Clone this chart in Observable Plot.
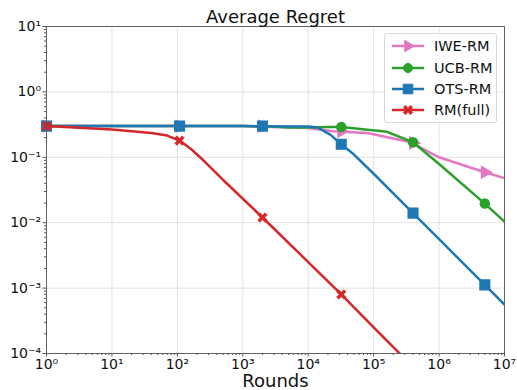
<!DOCTYPE html>
<html><head><meta charset="utf-8">
<script src="https://cdn.jsdelivr.net/npm/d3@7"></script>
<script src="https://cdn.jsdelivr.net/npm/@observablehq/plot@0.6"></script>
<style>
body{margin:0;background:#fff;}
#wrap{position:relative;width:517px;height:390px;font-family:"DejaVu Sans",sans-serif;}
#legend{position:absolute;left:384px;top:33px;width:113px;height:90px;border:1px solid #d9d9d9;border-radius:3px;background:rgba(255,255,255,0.8);box-sizing:border-box;}
.row{position:absolute;left:0;height:20px;display:flex;align-items:center;font-size:14.5px;color:#111;white-space:nowrap;}
.row svg{margin-left:7px;margin-right:10px;}
</style></head><body><div id="wrap"><div id="legend"></div></div>
<script>
// ---- data ----
const seriesNames = ["IWE-RM", "UCB-RM", "OTS-RM", "RM(full)"];
const seriesColors = ["#e377c2", "#2ca02c", "#1f77b4", "#d62728"];

const iweRounds  = [1, 10, 100, 1000, 5000, 10000, 24000, 80000, 370000, 1000000, 5000000, 10000000];
const iweRegret  = [0.3, 0.3, 0.3, 0.3, 0.285, 0.28, 0.25, 0.235, 0.17, 0.1, 0.059, 0.048];

const ucbRounds  = [1, 10, 100, 1000, 3000, 5000, 10000, 20000, 32000, 160000, 400000, 1000000, 5000000, 10000000];
const ucbRegret  = [0.3, 0.3, 0.3, 0.3, 0.295, 0.285, 0.285, 0.29, 0.29, 0.245, 0.17, 0.079, 0.0196, 0.0104];

const otsRounds  = [1, 10, 100, 1000, 10000, 14000, 22000, 32000, 50000, 100000, 400000, 1000000, 5000000, 10000000];
const otsRegret  = [0.3, 0.3, 0.3, 0.3, 0.295, 0.285, 0.22, 0.158, 0.11, 0.056, 0.014, 0.0056, 0.00112, 0.00056];

const rmRounds   = [1, 10, 40, 70, 108, 160, 250, 500, 2000, 10000, 32000, 100000, 1000000];
const rmRegret   = [0.3, 0.265, 0.235, 0.215, 0.18, 0.135, 0.09, 0.045, 0.012, 0.0025, 0.0008, 0.00025, 0.000025];

const markerRounds = [1, 108, 2000, 32000, 400000, 5000000];
const iweMarkers = [0.3, 0.3, 0.3, 0.25, 0.165, 0.059];
const ucbMarkers = [0.3, 0.3, 0.3, 0.29, 0.17, 0.0196];
const otsMarkers = [0.3, 0.3, 0.3, 0.158, 0.014, 0.00112];
const rmMarkerRounds = [1, 108, 2000, 32000];
const rmMarkers  = [0.3, 0.18, 0.012, 0.0008];

const xTicks = [1, 10, 100, 1000, 10000, 100000, 1000000, 10000000];
const yTicks = [0.0001, 0.001, 0.01, 0.1, 1, 10];

const titleText = "Average Regret";
const xLabel = "Rounds";

// ---- helpers ----
const supMap = {"0":"⁰","1":"¹","2":"²","3":"³","4":"⁴","5":"⁵","6":"⁶","7":"⁷","8":"⁸","9":"⁹","-":"⁻"};
const fmt = d => "10" + String(Math.round(Math.log10(d))).split("").map(c => supMap[c]).join("");
const minorOf = ticks => ticks.slice(0, -1).flatMap(t => [2,3,4,5,6,7,8,9].map(m => t * m));
const xMinor = minorOf(xTicks), yMinor = minorOf(yTicks);

// filled "X" marker like matplotlib's
const symbolFilledX = {
  draw(context, size) {
    const r = Math.sqrt(size / Math.PI) * 1.05, w = r * 0.3;
    const pts = [[w,r],[w,w],[r,w],[r,-w],[w,-w],[w,-r],[-w,-r],[-w,-w],[-r,-w],[-r,w],[-w,w],[-w,r]];
    const c = Math.SQRT1_2;
    pts.forEach(([x, y], i) => {
      const X = (x - y) * c, Y = (x + y) * c;
      i ? context.lineTo(X, Y) : context.moveTo(X, Y);
    });
    context.closePath();
  }
};

const [cI, cU, cO, cR] = seriesColors;
const lw = 2.5;
const gridStyle = {stroke: "#b0b0b0", strokeOpacity: 0.45, strokeWidth: 0.8};
const axisStroke = "#555";

const chart = Plot.plot({
  width: 517, height: 390,
  marginLeft: 46, marginRight: 13, marginTop: 26, marginBottom: 37,
  style: {fontFamily: "DejaVu Sans", background: "white", color: "#111", overflow: "visible"},
  x: {type: "log", domain: [1, 1e7]},
  y: {type: "log", domain: [1e-4, 10]},
  marks: [
    Plot.gridX(xTicks, gridStyle),
    Plot.gridY(yTicks, gridStyle),
    Plot.axisX(xMinor, {tickSize: 2, tickFormat: () => "", stroke: axisStroke, label: null}),
    Plot.axisY(yMinor, {tickSize: 2, tickFormat: () => "", stroke: axisStroke, label: null}),
    Plot.axisX(xTicks, {tickSize: 3.5, tickPadding: 2, tickFormat: fmt, fontSize: 14, stroke: axisStroke, label: null}),
    Plot.axisY(yTicks, {tickSize: 3.5, tickPadding: 2, tickFormat: fmt, fontSize: 14, stroke: axisStroke, label: null}),

    Plot.line(iweRounds, {x: iweRounds, y: iweRegret, stroke: cI, strokeWidth: lw, clip: true}),
    Plot.dot(markerRounds, {x: markerRounds, y: iweMarkers, symbol: "triangle", rotate: 90, r: 4.2, fill: cI, stroke: cI}),
    Plot.line(ucbRounds, {x: ucbRounds, y: ucbRegret, stroke: cU, strokeWidth: lw, clip: true}),
    Plot.dot(markerRounds, {x: markerRounds, y: ucbMarkers, symbol: "circle", r: 4.5, fill: cU, stroke: cU}),
    Plot.line(otsRounds, {x: otsRounds, y: otsRegret, stroke: cO, strokeWidth: lw, clip: true}),
    Plot.dot(markerRounds, {x: markerRounds, y: otsMarkers, symbol: "square", r: 5.4, fill: cO, stroke: cO}),
    Plot.line(rmRounds, {x: rmRounds, y: rmRegret, stroke: cR, strokeWidth: lw, clip: true}),
    Plot.dot(rmMarkerRounds, {x: rmMarkerRounds, y: rmMarkers, symbol: symbolFilledX, r: 5, fill: cR, stroke: cR, strokeWidth: 0.5}),

    Plot.frame({stroke: axisStroke, strokeWidth: 0.9}),
    Plot.text([titleText], {text: d => d, frameAnchor: "top", lineAnchor: "bottom", dy: -4, fontSize: 18, fill: "#111"}),
    Plot.text([xLabel], {text: d => d, frameAnchor: "bottom", lineAnchor: "bottom", dy: 33, fontSize: 18, fill: "#111"})
  ]
});
document.getElementById("wrap").prepend(chart);

// ---- legend (inside the axes, upper right) ----
const legend = d3.select("#legend");
const symbols = [d3.symbolTriangle, d3.symbolCircle, d3.symbolSquare, symbolFilledX];
const sizes = [4.2, 4.5, 5.4, 5];
const rowTops = [2, 24, 45, 66];
seriesNames.forEach((name, i) => {
  const row = legend.append("div").attr("class", "row").style("top", rowTops[i] + "px");
  const svg = row.append("svg").attr("width", 32).attr("height", 20);
  svg.append("line").attr("x1", 0).attr("x2", 32).attr("y1", 10).attr("y2", 10)
     .attr("stroke", seriesColors[i]).attr("stroke-width", lw);
  svg.append("path")
     .attr("d", d3.symbol(symbols[i], Math.PI * sizes[i] * sizes[i])())
     .attr("transform", `translate(16,10)` + (i === 0 ? " rotate(90)" : ""))
     .attr("fill", seriesColors[i]).attr("stroke", seriesColors[i]).attr("stroke-width", i === 3 ? 0.5 : 1);
  row.append("span").text(name);
});
</script>
</body></html>
